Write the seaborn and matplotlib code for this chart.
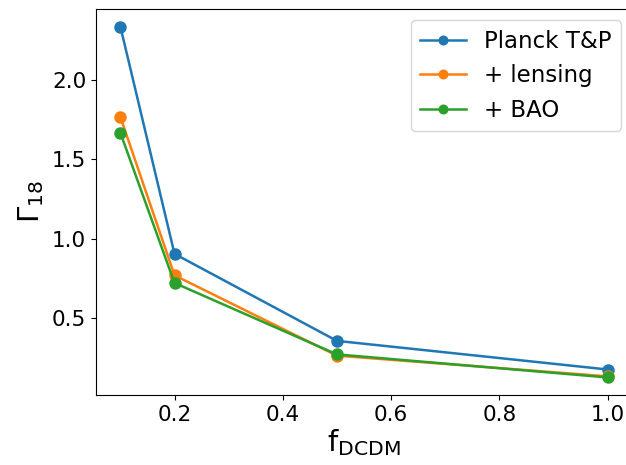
import matplotlib
matplotlib.use("Agg")
import matplotlib.pyplot as plt
import seaborn as sns
import pandas as pd

f_dcdm = [0.1, 0.2, 0.5, 1.0]
planck = [2.334, 0.905, 0.358, 0.178]
lensing = [1.766, 0.77, 0.265, 0.135]
bao = [1.666, 0.722, 0.273, 0.128]
labels = ["Planck T&P", "+ lensing", "+ BAO"]

rows = []
for lab, vals in zip(labels, [planck, lensing, bao]):
    for x, y in zip(f_dcdm, vals):
        rows.append({"f": x, "G": y, "set": lab})
df = pd.DataFrame(rows)

plt.rcParams["mathtext.fontset"] = "dejavusans"
fig = plt.figure(figsize=(6.26, 4.65), dpi=100)
ax = fig.add_axes([96/626, 70/465, 536/626, 386/465])
palette = ["#1f77b4", "#ff7f0e", "#2ca02c"]
sns.lineplot(data=df, x="f", y="G", hue="set", hue_order=labels, palette=palette,
             marker="o", markersize=9, markeredgewidth=0, linewidth=1.8, ax=ax)
ax.set_xlabel(r"$\mathrm{f}_{\mathrm{DCDM}}$", fontsize=21, labelpad=2)
ax.set_ylabel(r"$\Gamma_{18}$", fontsize=21)
ax.tick_params(labelsize=15.5)
ax.set_xticks([0.2, 0.4, 0.6, 0.8, 1.0])
ax.set_yticks([0.5, 1.0, 1.5, 2.0])
ax.legend(loc="upper right", fontsize=16.5, markerscale=0.8)
fig.savefig("out.png", dpi=100)
